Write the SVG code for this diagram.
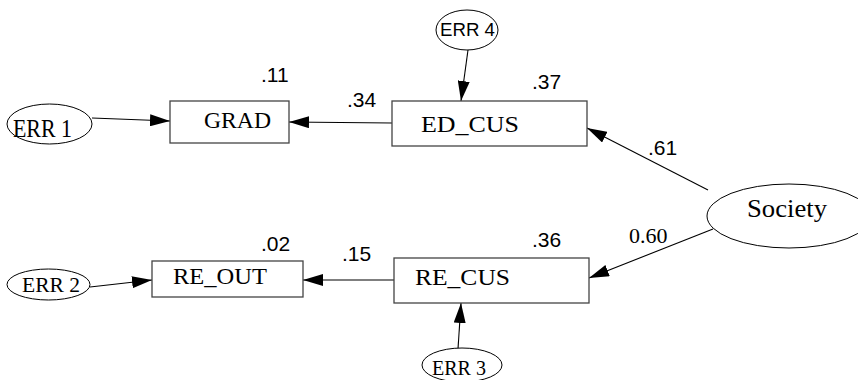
<svg xmlns="http://www.w3.org/2000/svg" width="858" height="380" viewBox="0 0 858 380">
<style>
.box{fill:#fff;stroke:#444;stroke-width:1.3}
.ell{fill:#fff;stroke:#000;stroke-width:1}
.serif{font-family:"Liberation Serif","Times New Roman",serif;fill:#000}
.sans{font-family:"Liberation Sans",Arial,sans-serif;fill:#000}
.edge{stroke:#000;stroke-width:1.1;fill:none;marker-end:url(#ah)}
.num{font-family:"Liberation Sans",Arial,sans-serif;font-size:21px;fill:#000}
</style>
<defs>
<marker id="ah" markerUnits="userSpaceOnUse" markerWidth="20" markerHeight="12" refX="20" refY="6" orient="auto">
<path d="M0,0 L20,6 L0,12 z" fill="#000"/>
</marker>
</defs>
<rect width="858" height="380" fill="#fff"/>
<g id="connectors">
<line class="edge" x1="92" y1="118" x2="170" y2="121"/>
<line class="edge" x1="392" y1="123" x2="289" y2="122"/>
<line class="edge" x1="468" y1="50" x2="461" y2="101"/>
<line class="edge" x1="708" y1="190" x2="587" y2="128"/>
<line class="edge" x1="713" y1="229" x2="589" y2="278"/>
<line class="edge" x1="394" y1="280" x2="303" y2="280"/>
<line class="edge" x1="90" y1="287" x2="152" y2="280"/>
<line class="edge" x1="458" y1="349" x2="461" y2="303"/>
</g>
<g id="ERR1">
<ellipse class="ell" cx="49.5" cy="124" rx="42.5" ry="20"/>
<text class="serif" x="13" y="137" font-size="25" textLength="59" lengthAdjust="spacingAndGlyphs">ERR 1</text>
</g>
<g id="GRAD">
<rect class="box" x="170" y="101" width="119" height="42"/>
<text class="serif" x="204" y="128" font-size="24" textLength="67" lengthAdjust="spacingAndGlyphs">GRAD</text>
<text class="num" x="261" y="82">.11</text>
</g>
<g id="ED_CUS">
<rect class="box" x="392" y="101" width="195" height="45"/>
<text class="serif" x="421" y="132" font-size="24" textLength="98" lengthAdjust="spacingAndGlyphs">ED_CUS</text>
<text class="num" x="532" y="89">.37</text>
</g>
<g id="ERR4">
<ellipse class="ell" cx="467" cy="30" rx="31" ry="20"/>
<text class="sans" x="440" y="36" font-size="18" textLength="55" lengthAdjust="spacingAndGlyphs">ERR 4</text>
</g>
<g id="Society">
<ellipse class="ell" cx="789" cy="216" rx="82" ry="32"/>
<text class="serif" x="747" y="217" font-size="26" textLength="80" lengthAdjust="spacingAndGlyphs">Society</text>
</g>
<g id="RE_CUS">
<rect class="box" x="394" y="258" width="195" height="45"/>
<text class="serif" x="415" y="285" font-size="24" textLength="95" lengthAdjust="spacingAndGlyphs">RE_CUS</text>
<text class="num" x="532" y="247">.36</text>
</g>
<g id="RE_OUT">
<rect class="box" x="152" y="261" width="151" height="36"/>
<text class="serif" x="173" y="284" font-size="24" textLength="94" lengthAdjust="spacingAndGlyphs">RE_OUT</text>
<text class="num" x="261" y="251">.02</text>
</g>
<g id="ERR2">
<ellipse class="ell" cx="48.5" cy="284.5" rx="41.5" ry="15.5"/>
<text class="serif" x="22" y="292" font-size="22" textLength="58" lengthAdjust="spacingAndGlyphs">ERR 2</text>
</g>
<g id="ERR3">
<ellipse class="ell" cx="462" cy="365" rx="40" ry="17"/>
<text class="serif" x="432" y="375" font-size="21" textLength="54" lengthAdjust="spacingAndGlyphs">ERR 3</text>
</g>
<g id="labels">
<text class="num" x="347" y="107">.34</text>
<text class="num" x="648" y="155">.61</text>
<text class="serif" x="629" y="243" font-size="22">0.60</text>
<text class="num" x="342" y="261">.15</text>
</g>
</svg>
